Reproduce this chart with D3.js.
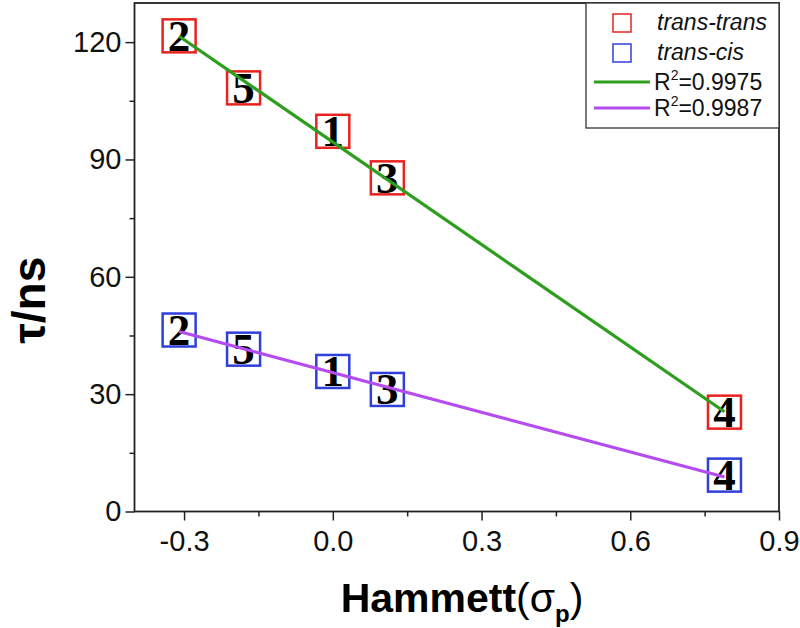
<!DOCTYPE html>
<html><head><meta charset="utf-8">
<script src="https://cdn.jsdelivr.net/npm/d3@7"></script>
<style>body{margin:0;background:#fff}</style>
</head><body>
<svg id="c" width="800" height="628"></svg>
<script>
// ---- data ----
const sigma = [-0.31, -0.18, 0.0, 0.11, 0.79];
const labels = ["2", "5", "1", "3", "4"];
const transTrans = [121.6, 108.3, 97.2, 85.3, 25.4];
const transCis = [46.4, 41.5, 35.8, 31.2, 9.3];
const fitX = [-0.31, 0.79];
const fitTT = [121.5, 25.5];
const fitTC = [46.0, 8.8];
const xTicks = [-0.3, 0.0, 0.3, 0.6, 0.9];
const xMinor = [-0.15, 0.15, 0.45, 0.75];
const yTicks = [0, 30, 60, 90, 120];
const yMinor = [15, 45, 75, 105];
const legendMarkers = ["trans-trans", "trans-cis"];
const legendFits = ["0.9975", "0.9987"];

// ---- layout ----
const W = 800, H = 628;
const m = {left: 134.5, top: 3, right: 21, bottom: 116.5};
const pw = W - m.left - m.right, ph = H - m.top - m.bottom;
const RED = "#e8231f", BLUE = "#2f3fdc", GREEN = "#2e9e1e", PURPLE = "#b44cf0";
const SANS = "Liberation Sans, Arial, sans-serif";

const svg = d3.select("#c");
const g = svg.append("g").attr("transform", `translate(${m.left},${m.top})`);
const x = d3.scaleLinear().domain([-0.4, 0.9]).range([0, pw]);
const y = d3.scaleLinear().domain([0, 130]).range([ph, 0]);

// axes
g.append("g").attr("transform", `translate(0,${ph})`)
  .call(d3.axisBottom(x).tickValues(xTicks).tickFormat((d) => d.toFixed(1)).tickSize(9).tickPadding(10));
g.append("g").attr("transform", `translate(0,${ph})`)
  .call(d3.axisBottom(x).tickValues(xMinor).tickFormat("").tickSize(5));
g.append("g")
  .call(d3.axisLeft(y).tickValues(yTicks).tickSize(9).tickPadding(4));
g.append("g")
  .call(d3.axisLeft(y).tickValues(yMinor).tickFormat("").tickSize(5));
g.selectAll(".tick line").attr("stroke", "#222").attr("stroke-width", 1.5);
g.selectAll(".domain").attr("stroke", "none");
g.selectAll(".tick text").attr("font-family", SANS)
  .attr("font-size", 29).attr("fill", "#111");
// frame
g.append("rect").attr("x", 0).attr("y", 0).attr("width", pw).attr("height", ph)
  .attr("fill", "none").attr("stroke", "#222").attr("stroke-width", 1.8);

// markers
const SQ = 33;
function drawSeries(vals, color) {
  const gg = g.append("g");
  gg.selectAll("rect").data(sigma).join("rect")
    .attr("x", (d) => x(d) - SQ / 2)
    .attr("y", (d, i) => y(vals[i]) - SQ / 2)
    .attr("width", SQ).attr("height", SQ)
    .attr("fill", "none").attr("stroke", color).attr("stroke-width", 2.5);
  gg.selectAll("text").data(sigma).join("text")
    .attr("x", (d) => x(d))
    .attr("y", (d, i) => y(vals[i]) + 15)
    .attr("text-anchor", "middle")
    .attr("font-family", "Liberation Serif, Times New Roman, serif")
    .attr("font-weight", "bold").attr("font-size", 45).attr("fill", "#000")
    .text((d, i) => labels[i]);
}
drawSeries(transTrans, RED);
drawSeries(transCis, BLUE);

// fit lines
const line = d3.line().x((d) => x(d[0])).y((d) => y(d[1]));
g.append("path").datum(fitX.map((v, i) => [v, fitTT[i]])).attr("d", line)
  .attr("stroke", GREEN).attr("stroke-width", 3.2).attr("fill", "none");
g.append("path").datum(fitX.map((v, i) => [v, fitTC[i]])).attr("d", line)
  .attr("stroke", PURPLE).attr("stroke-width", 3.2).attr("fill", "none");

// legend
const lg = svg.append("g");
lg.append("rect").attr("x", 586).attr("y", 3).attr("width", 193).attr("height", 125)
  .attr("fill", "#fff").attr("stroke", "#333").attr("stroke-width", 1.3);
const lColors = [RED, BLUE];
const rowY = [23, 53, 82, 108];
legendMarkers.forEach((t, i) => {
  lg.append("rect").attr("x", 613).attr("y", rowY[i] - 9).attr("width", 18).attr("height", 18)
    .attr("fill", "none").attr("stroke", lColors[i]).attr("stroke-width", 1.5);
  lg.append("text").attr("x", 657).attr("y", rowY[i] + 7)
    .attr("font-family", SANS).attr("font-style", "italic")
    .attr("font-size", 23).attr("fill", "#111").text(t);
});
const fColors = [GREEN, PURPLE];
legendFits.forEach((t, i) => {
  const ry = rowY[i + 2];
  lg.append("line").attr("x1", 594).attr("x2", 650).attr("y1", ry).attr("y2", ry)
    .attr("stroke", fColors[i]).attr("stroke-width", 3.2);
  const tx = lg.append("text").attr("x", 654).attr("y", ry + 8)
    .attr("font-family", SANS).attr("font-size", 23).attr("fill", "#111");
  tx.append("tspan").text("R");
  tx.append("tspan").attr("font-size", 14).attr("dy", -10).text("2");
  tx.append("tspan").attr("dy", 10).text("=" + t);
});

// axis titles
const xt = svg.append("text").attr("x", 462).attr("y", 612)
  .attr("text-anchor", "middle")
  .attr("font-family", SANS).attr("font-size", 41).attr("fill", "#000");
xt.append("tspan").attr("font-weight", "bold").text("Hammett");
xt.append("tspan").text("(σ");
xt.append("tspan").attr("font-weight", "bold").attr("font-size", 24).attr("dy", 10).text("p");
xt.append("tspan").attr("dy", -10).text(")");

svg.append("text")
  .attr("transform", `translate(45,${m.top + y(54)}) rotate(-90)`)
  .attr("text-anchor", "middle")
  .attr("font-family", SANS).attr("font-weight", "bold")
  .attr("font-size", 46).attr("fill", "#000").text("τ/ns");
</script>
</body></html>
